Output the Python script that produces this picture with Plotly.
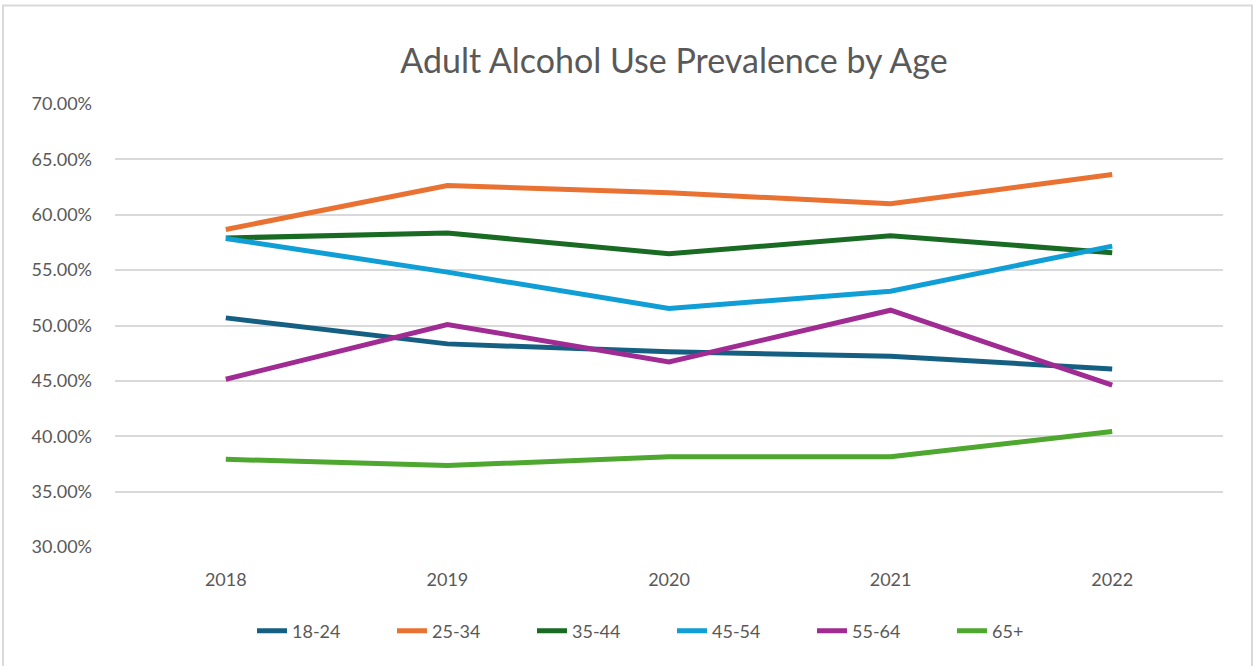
import plotly.graph_objects as go

# Survey years and prevalence (%) by age group
years = ["2018", "2019", "2020", "2021", "2022"]
age_18_24 = [50.69, 48.34, 47.62, 47.23, 46.08]
age_25_34 = [58.67, 62.64, 61.99, 60.99, 63.64]
age_35_44 = [57.90, 58.35, 56.48, 58.10, 56.57]
age_45_54 = [57.86, 54.82, 51.53, 53.10, 57.17]
age_55_64 = [45.15, 50.09, 46.71, 51.38, 44.61]
age_65_plus = [37.92, 37.35, 38.16, 38.16, 40.42]

y_ticks = [30, 35, 40, 45, 50, 55, 60, 65, 70]

series = [
    ("18-24", age_18_24, "#156082"),
    ("25-34", age_25_34, "#E97132"),
    ("35-44", age_35_44, "#196B24"),
    ("45-54", age_45_54, "#0F9ED5"),
    ("55-64", age_55_64, "#A02B93"),
    ("65+", age_65_plus, "#4EA72E"),
]

W, H = 1254, 666
L, R, T, B = 115, 31, 103.5, 119

fig = go.Figure()
for name, vals, color in series:
    fig.add_trace(go.Scatter(
        x=years, y=vals, name=name, mode="lines",
        line=dict(color=color, width=5),
    ))

font_family = "Lato, 'Open Sans', sans-serif"
pw = W - L - R
ph = H - T - B

fig.update_layout(
    width=W, height=H,
    margin=dict(l=L, r=R, t=T, b=B, autoexpand=False),
    paper_bgcolor="white", plot_bgcolor="white",
    font=dict(family=font_family, color="#595959", size=18),
    title=dict(
        text="Adult Alcohol Use Prevalence by Age",
        x=674 / W, xanchor="center", y=1 - 61 / H, yanchor="middle",
        font=dict(size=34, color="#595959", family=font_family),
    ),
    xaxis=dict(
        type="category", range=[-0.5, 4.5],
        showgrid=False, zeroline=False, showline=False,
        ticks="", tickfont=dict(size=18, color="#595959"),
        ticklabelstandoff=20,
    ),
    yaxis=dict(
        range=[30, 70], tickvals=y_ticks,
        ticktext=[f"{v:.2f}%" for v in y_ticks],
        showgrid=True, gridcolor="#d9d9d9", gridwidth=1.5,
        zeroline=False, showline=False, ticks="",
        tickfont=dict(size=18, color="#595959"),
        ticklabelstandoff=22,
    ),
    legend=dict(
        orientation="h", xref="container", x=672 / W, xanchor="center",
        yref="container", y=1 - 631 / H, yanchor="middle",
        font=dict(size=18, color="#595959"),
        entrywidth=95, entrywidthmode="pixels",
        itemwidth=30, tracegroupgap=0,
    ),
    showlegend=True,
)

# Outer chart border
fig.add_shape(
    type="rect", xref="paper", yref="paper",
    x0=(3 - L) / pw, x1=(1252 - L) / pw,
    y0=-(H + 5 - (H - B)) / ph, y1=1 + (T - 5) / ph,
    line=dict(color="#d9d9d9", width=2), layer="below",
)

fig.write_html("out.html")
